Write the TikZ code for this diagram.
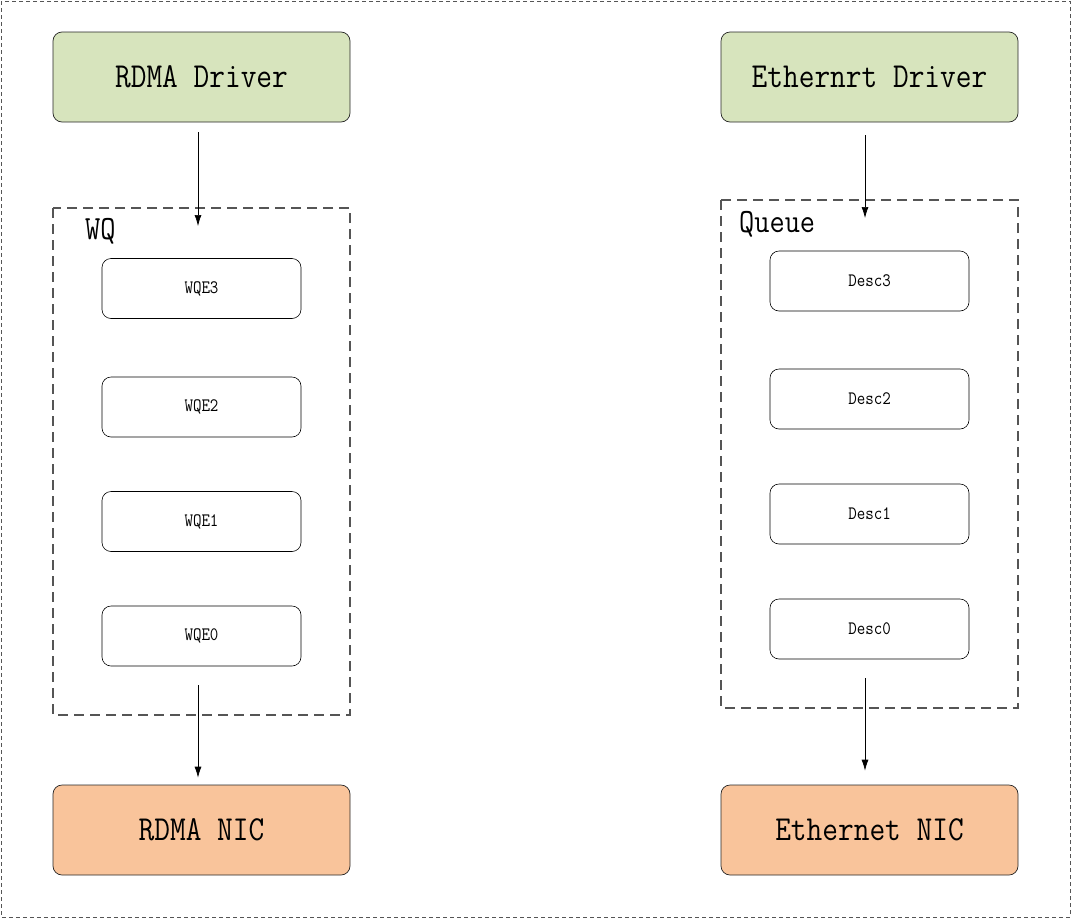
\documentclass[tikz,border=0pt]{standalone}
\usetikzlibrary{arrows.meta,calc}
\definecolor{drvgreen}{HTML}{D7E4BD}
\definecolor{nicorange}{HTML}{F9C49B}
\definecolor{dashgray}{HTML}{555555}
\newcommand{\talltext}[1]{\scalebox{1}[1.15]{#1}}
\begin{document}
\begin{tikzpicture}[x=1pt,y=-1pt,
  bigbox/.style={draw=black!85,line width=0.7pt,rounded corners=9pt,minimum width=297pt,minimum height=90pt,font=\fontsize{30.5}{32}\selectfont\ttfamily,inner sep=0pt},
  drv/.style={bigbox,fill=drvgreen},
  nic/.style={bigbox,fill=nicorange},
  item/.style={draw=black,line width=0.6pt,rounded corners=9pt,minimum width=199pt,minimum height=60pt,font=\fontsize{16.5}{18}\selectfont\ttfamily,inner sep=0pt},
  qbox/.style={draw=dashgray,line width=1.1pt,dash pattern=on 10pt off 6pt},
  qlabel/.style={font=\fontsize{29.5}{30}\selectfont\ttfamily,inner sep=0pt,anchor=west},
  arr/.style={-{Latex[length=11pt,width=7pt]},line width=0.7pt}
]
\useasboundingbox (0,0) rectangle (1072,919);
\draw[dashgray,line width=0.8pt,dash pattern=on 4pt off 3pt] (1,1) rectangle (1070,917);

% left column
\node[drv] (rd) at (201.5,77) {\talltext{RDMA Driver}};
\node[nic] (rn) at (201.5,830) {\talltext{RDMA NIC}};
\draw[qbox] (53,208) rectangle (350,715);
\node[qlabel] (wq) at (85,231) {\talltext{WQ}};
\node[item] (w3) at (201.5,288.5) {\talltext{WQE3}};
\node[item] (w2) at (201.5,407) {\talltext{WQE2}};
\node[item] (w1) at (201.5,521.5) {\talltext{WQE1}};
\node[item] (w0) at (201.5,636) {\talltext{WQE0}};

% right column
\node[drv] (ed) at (869.5,77) {\talltext{Ethernrt Driver}};
\node[nic] (en) at (869.5,830) {\talltext{Ethernet NIC}};
\draw[qbox] (721,200) rectangle (1018,708);
\node[qlabel] (qu) at (739,224) {\talltext{Queue}};
\node[item] (d3) at (869.5,281) {\talltext{Desc3}};
\node[item] (d2) at (869.5,399) {\talltext{Desc2}};
\node[item] (d1) at (869.5,514) {\talltext{Desc1}};
\node[item] (d0) at (869.5,629) {\talltext{Desc0}};

% arrows
\coordinate (a1s) at ($(rd.south)+(-3.5,10)$);
\coordinate (a1e) at (198,226);
\coordinate (a2s) at (198,685);
\coordinate (a2e) at ($(rn.north)+(-3.5,-7)$);
\coordinate (b1s) at ($(ed.south)+(-4.5,13)$);
\coordinate (b1e) at (865,218);
\coordinate (b2s) at (865,678);
\coordinate (b2e) at ($(en.north)+(-4.5,-14)$);
\draw[arr] (a1s) -- (a1e);
\draw[arr] (a2s) -- (a2e);
\draw[arr] (b1s) -- (b1e);
\draw[arr] (b2s) -- (b2e);
\end{tikzpicture}
\end{document}
